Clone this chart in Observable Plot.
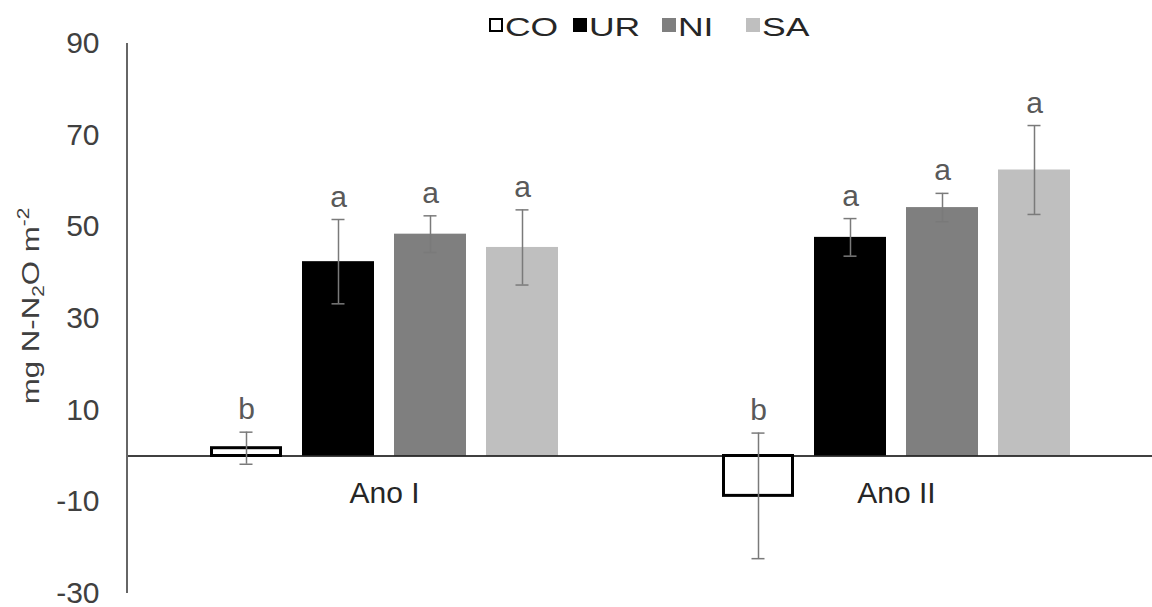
<!DOCTYPE html>
<html>
<head>
<meta charset="utf-8">
<script src="https://cdn.jsdelivr.net/npm/d3@7"></script>
<script src="https://cdn.jsdelivr.net/npm/@observablehq/plot@0.6"></script>
<style>
  html, body { margin: 0; padding: 0; background: #fff; }
  #wrap { position: relative; width: 1152px; height: 607px; font-family: "Liberation Sans", Arial, sans-serif; }
  #legend { position: absolute; left: 0; top: 0; }
</style>
</head>
<body>
<div id="wrap"></div>
<script>
// Emissões acumuladas de N-N2O por tratamento e ano
const years = ["Ano I", "Ano II"];
const treatments = ["CO", "UR", "NI", "SA"];
const meanAnoI = [1.7, 42.4, 48.4, 45.5];
const meanAnoII = [-8.7, 47.7, 54.2, 62.4];
const errAnoI = [3.5, 9.2, 4.0, 8.2];
const errAnoII = [13.7, 4.1, 3.1, 9.7];
const lettersAnoI = ["b", "a", "a", "a"];
const lettersAnoII = ["b", "a", "a", "a"];
const yTicks = [-30, -10, 10, 30, 50, 70, 90];

const fills = ["#ffffff", "#000000", "#7f7f7f", "#bfbfbf"];

const rows = [
  ...treatments.map((cat, i) => ({year: years[0], cat, value: meanAnoI[i], err: errAnoI[i], letter: lettersAnoI[i]})),
  ...treatments.map((cat, i) => ({year: years[1], cat, value: meanAnoII[i], err: errAnoII[i], letter: lettersAnoII[i]}))
];
const control = rows.filter(d => d.cat === "CO");
const treated = rows.filter(d => d.cat !== "CO");

const textGray = "#595959";
const axisGray = "#404040";
const errGray = "#7a7a7a";

const chart = Plot.plot({
  width: 1152,
  height: 607,
  marginTop: 43,
  marginBottom: 14,
  marginLeft: 127,
  marginRight: 0,
  style: {fontFamily: "Liberation Sans, Arial, sans-serif", background: "white", overflow: "visible"},
  fx: {domain: years, padding: 0, axis: null},
  x: {domain: treatments, paddingInner: 0.215, paddingOuter: 0.866, axis: null},
  y: {domain: [-30, 90], axis: null},
  color: {domain: treatments, range: fills},
  marks: [
    Plot.axisY({ticks: yTicks, tickFormat: d => String(d), tickSize: 0, tickPadding: 29, fontSize: 30, color: axisGray, label: null}),
    Plot.barY(treated, {fx: "year", x: "cat", y1: 0, y2: "value", fill: "cat"}),
    Plot.barY(control, {fx: "year", x: "cat", y1: 0, y2: "value", fill: "white", stroke: "#000", strokeWidth: 3, insetLeft: 1.5, insetRight: 1.5}),
    Plot.ruleY([0], {stroke: "#000", strokeWidth: 1.5}),
    Plot.ruleX(rows, {fx: "year", x: "cat", y1: d => d.value - d.err, y2: d => d.value + d.err, stroke: errGray, strokeWidth: 1.5}),
    Plot.tickY(rows, {fx: "year", x: "cat", y: d => d.value + d.err, stroke: errGray, strokeWidth: 1.5, insetLeft: 29.5, insetRight: 29.5}),
    Plot.tickY(rows, {fx: "year", x: "cat", y: d => d.value - d.err, stroke: errGray, strokeWidth: 1.5, insetLeft: 29.5, insetRight: 29.5}),
    Plot.text(rows, {fx: "year", x: "cat", y: d => d.value + d.err, text: "letter", lineAnchor: "bottom", dy: -13, fontSize: 30, fill: textGray}),
    Plot.text(years, {fx: d => d, y: () => 0, text: d => d, lineAnchor: "middle", dy: 37, fontSize: 30, fill: "#262626"})
  ]
});

document.getElementById("wrap").appendChild(chart);

// vertical axis line and rotated axis title, placed with the y scale
const y = chart.scale("y");
const svg = d3.select(chart);
const axisX = 127;
svg.append("line")
  .attr("x1", axisX).attr("x2", axisX)
  .attr("y1", y.apply(90)).attr("y2", y.apply(-30))
  .attr("stroke", "#333").attr("stroke-width", 1.5);

const midY = (y.apply(90) + y.apply(-30)) / 2;
const title = svg.append("text")
  .attr("transform", `translate(39,${midY - 12}) rotate(-90) scale(1.3,1)`)
  .attr("text-anchor", "middle")
  .attr("font-size", 24)
  .attr("fill", axisGray)
  .attr("font-family", "Liberation Sans, Arial, sans-serif");
title.append("tspan").text("mg N-N");
title.append("tspan").attr("font-size", 16).attr("dy", 5).text("2");
title.append("tspan").attr("dy", -5).text("O m");
title.append("tspan").attr("font-size", 16).attr("dy", -10).text("-2");

// legend drawn above the chart
const legend = d3.select("#wrap").append("svg")
  .attr("id", "legend")
  .attr("width", 1152).attr("height", 42)
  .attr("font-family", "Liberation Sans, Arial, sans-serif");
const swatchX = [489, 573, 662, 746];
const stretch = 1.42;
treatments.forEach((t, i) => {
  const lx = swatchX[i];
  legend.append("rect")
    .attr("x", t === "CO" ? lx + 1 : lx).attr("y", t === "CO" ? 19 : 18)
    .attr("width", t === "CO" ? 12 : 14).attr("height", t === "CO" ? 12 : 14)
    .attr("fill", fills[i])
    .attr("stroke", t === "CO" ? "#000" : "none")
    .attr("stroke-width", 2);
  legend.append("text")
    .attr("transform", `translate(${lx + 16},35.5) scale(${stretch},1)`)
    .attr("font-size", 25)
    .attr("fill", "#262626")
    .text(t);
});
</script>
</body>
</html>
